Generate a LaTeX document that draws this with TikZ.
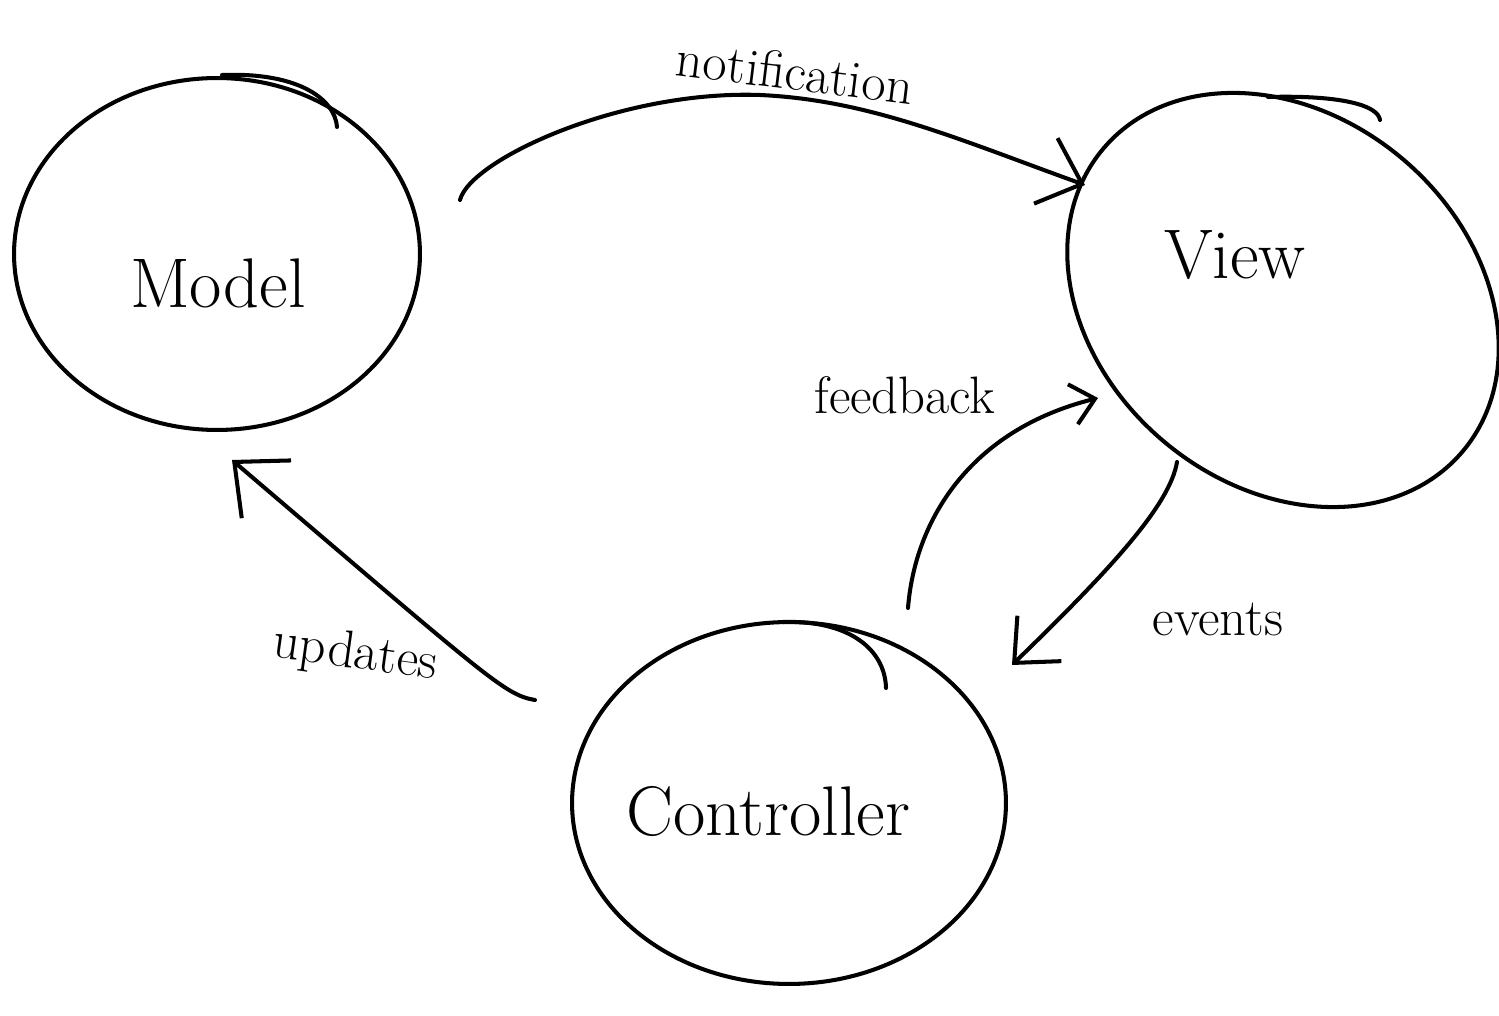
\documentclass[tikz,border=0pt]{standalone}
\usetikzlibrary{shapes.geometric,arrows.meta}
\begin{document}
\begin{tikzpicture}[x=0.02cm,y=-0.02cm,
  pen/.style={line width=2.3pt,line cap=round,line join=round},
  blob/.style={pen,draw,ellipse,inner sep=0pt},
  bigtext/.style={font=\fontsize{40}{48}\selectfont},
  lbl/.style={font=\fontsize{30}{36}\selectfont},
  arr/.style={pen,-{Straight Barb[length=#1,width=1.8*#1,line width=2.3pt]}}]
\useasboundingbox (0,0) rectangle (1499,1016);
% bubbles
\node[blob,minimum width=8.12cm,minimum height=7.04cm] (model) at (217,254) {};
\node[blob,minimum width=9.4cm,minimum height=7.4cm,rotate=-40] (view) at (1283,300) {};
\node[blob,minimum width=8.68cm,minimum height=7.24cm] (ctrl) at (789,803) {};
% titles
\node[bigtext] (tmodel) at (218,283) {Model};
\node[bigtext] (tview) at (1235,255) {View};
\node[bigtext] (tctrl) at (768,812) {Controller};
% sketch hooks on top of bubbles
\coordinate (mh1) at (222,75); \coordinate (mh2) at (337,127);
\coordinate (vh1) at (1268,97); \coordinate (vh2) at (1380,120);
\coordinate (ch1) at (783,622); \coordinate (ch2) at (886,688);
\draw[pen] (mh1) .. controls (300,72) and (335,100) .. (mh2);
\draw[pen] (vh1) .. controls (1340,95) and (1378,105) .. (vh2);
\draw[pen] (ch1) .. controls (850,620) and (885,650) .. (ch2);
% connector end points
\coordinate (nS) at (460,200); \coordinate (nE) at (1085,185);
\coordinate (fS) at (908,608); \coordinate (fE) at (1098,398);
\coordinate (eS) at (1177,462); \coordinate (eE) at (1012,665);
\coordinate (uS) at (535,700); \coordinate (uE) at (232,460);
% connectors
\draw[arr=22pt] (nS) .. controls (470,160) and (620,90) .. (760,95)
   .. controls (870,100) and (960,140) .. (nE);
\draw[arr=13pt] (fS) .. controls (915,520) and (970,430) .. (fE);
\draw[arr=20pt] (eS) .. controls (1170,505) and (1110,570) .. (eE);
\draw[arr=24pt] (uS) .. controls (505,695) and (490,680) .. (uE);
% labels
\node[lbl,rotate=-7] (lnot) at (795,72) {notification};
\node[lbl] (lfeed) at (905,395) {feedback};
\node[lbl] (lev) at (1218,620) {events};
\node[lbl,rotate=-8] (lupd) at (355,655) {updates};
\end{tikzpicture}
\end{document}
